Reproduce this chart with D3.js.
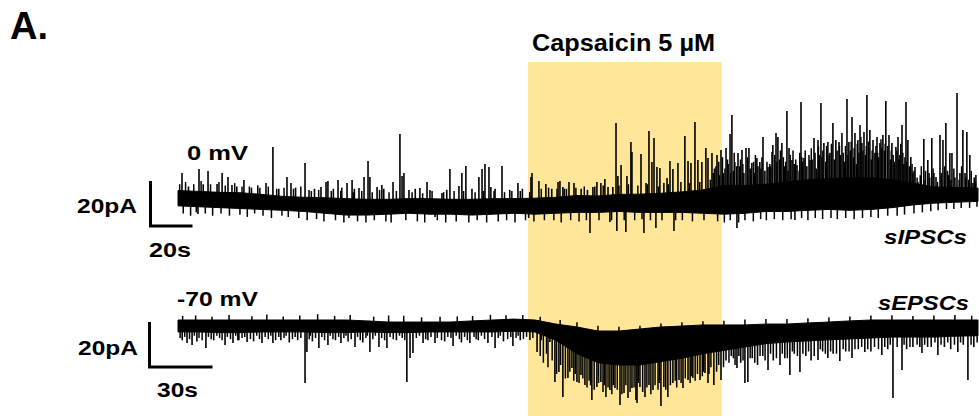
<!DOCTYPE html>
<html><head><meta charset="utf-8">
<script src="https://cdn.jsdelivr.net/npm/d3@7"></script>
<style>
body{margin:0;background:#fff}
svg{display:block}
text{font-family:"Liberation Sans",Arial,Helvetica,sans-serif;font-weight:bold;fill:#000}
</style>
</head><body>
<svg id="chart" width="979" height="416"></svg>
<script>
// ---------- DATA (time in s, current in pA) ----------
const bandTime = [0,10,20,30,40,50,60,70,80,90,100,110,120,130,140,150,160,170,180,190,200,210,220,230,240,250,260,270,280,290,300,310,320,330,340,350,360,370,381];

// sIPSC trace (0 mV): solid noise core
const ipscUpper = [4.2,3.8,3.4,3.2,2.5,1.6,1.2,1.0,0.6,0.3,0.3,0.6,0.6,0.3,0.3,0.6,0.6,0.8,1.2,2.0,1.8,2.5,2.6,3.0,3.6,4.5,6.5,6.5,7.0,8.0,9.0,9.5,10.0,10.0,9.0,7.5,5.8,5.6,5.3];
const ipscLower = [-2.6,-3.0,-3.4,-3.8,-4.2,-4.6,-5.1,-5.9,-6.7,-6.7,-6.3,-5.9,-6.3,-6.3,-6.7,-6.3,-5.9,-6.3,-5.9,-5.5,-5.5,-5.1,-5.5,-5.5,-5.5,-5.9,-6.3,-5.9,-5.1,-5.1,-4.6,-4.2,-4.6,-4.2,-3.4,-2.2,-1.4,-1.0,-0.6];
// sIPSC events: [time s, peak pA]
const ipscEvents = [
[1.9,12.0],[5,6],[10.0,13.8],[12,7],[14.3,12.9],[18.6,7.1],[21.0,12.0],[23.8,10.2],[25.7,6.7],[28,6],[31.4,8.9],[35,5.5],[38,6.5],
[41.9,7.6],[45.2,23.6],[48,5],[51.9,10.2],[53.8,7.6],[56,5.5],[60.5,16.4],[62.4,4.4],[65,5],[68.1,5.8],[70.5,8.0],[71.4,8.4],[74,5],
[76.2,8.9],[78,5.5],[80.5,7.6],[82.9,8.9],[84,5],[86.2,5.3],[88.6,10.2],[90.5,17.3],[91.4,10.2],[94.8,5.8],[97.1,6.7],[98,5],
[102.4,8.0],[105.7,29.3],[106.7,10.7],[107.6,12.0],[110,4.5],[113,5],[115.2,5.3],[118.6,8.0],[120,4.5],[125.7,3.1],[128,4.5],
[129.5,13.8],[133.8,6.2],[135.2,12.0],[137.1,15.1],[140,5],[143.3,10.2],[144.8,13.8],[146.2,16.0],[148.1,14.7],[149.0,5.8],
[151,5],[154.3,15.1],[158,4.5],[161.9,7.6],[164,5],[168.1,10.2],[168.6,12.0],[171.9,8.4],[175.2,7.1],[178,5],[181.0,8.0],
[181.9,8.4],[183.3,5.8],[184,5],[186.2,8.0],[188.6,7.6],[192,5],[195,4.5],[197.6,5.8],[199.5,8.0],[201.4,7.6],[203.3,9.3],
[204.8,5.8],[207.1,5.8],[208.6,34.2],[209.5,10.7],[211.0,15.6],[213.8,10.7],[215.7,25.8],[216.2,21.3],[220.5,20.4],[222.9,7.6],
[224.3,30.7],[225.7,16.9],[226.7,27.6],[228.1,14.7],[229.5,14.2],[231.4,7.6],[232.9,9.8],[234.3,17.3],[235.7,13.8],[238.1,16.4],
[241.4,28.4],[242.9,17.3],[244.3,16.4],[246.2,34.7],[247.6,17.8],[249.5,16.9],[251.4,23.1],[252.4,18.7],[254.3,20.9],[255.5,14],
[256.7,20.0],[257.5,17],[258.6,22.2],[259.8,12],[261.0,23.1],[262,16],[262.9,29.3],[263.8,37.8],[264.5,13],[265.2,16.9],[266.7,20.9],
[267.5,15],[268.6,22.2],[269.5,12],[270.5,23.1],[271.9,23.1],[272.5,14],[273.3,16.4],[274.5,12],[275.7,18.7],[276.2,15],[277.1,16.9],
[278.6,28.0],[279.5,13],[281.0,14.7],[281.8,16],[282.9,21.3],[283.3,24.4],[284.8,29.8],[285.7,28.0],[286.5,18],[287.6,25.3],
[288.8,15],[290.0,39.6],[290.5,13],[291.0,23.1],[292.4,17.8],[293.5,16],[294.8,15.6],[295.8,13],[296.7,43.6],[297.5,17],[298.1,18.7],
[299.5,15],[301.0,17.8],[302,18],[302.9,27.6],[304,14],[304.8,26.7],[305.5,20],[306.2,43.1],[307.6,25.3],[308.5,17],[309.5,25.8],
[310.5,21],[311.9,34.2],[312.6,18],[313.3,26.7],[314.8,25.8],[315.5,20],[316.2,29.8],[317.3,17],[318.6,44.9],[319.5,25.8],[320.2,22],
[321.0,36.9],[321.7,19],[322.4,29.8],[323.1,16],[323.8,26.7],[324.8,33.3],[325.7,25.3],[326.7,30.2],[327.4,20],[328.1,46.7],
[329.5,31.1],[330.2,18],[331.0,26.7],[331.9,21],[332.9,28.0],[333.6,19],[334.3,25.3],[335.7,28.9],[336.4,22],[337.1,44.0],
[338.6,28.9],[339.3,18],[340.0,25.3],[341.2,17],[341.9,23.6],[342.9,28.0],[343.8,20],[344.8,33.3],[345.7,16],[346.7,43.6],
[347.6,26.7],[348.3,15],[349.0,19.1],[350,12],[351.0,14.7],[352.4,8.0],[353.5,11],[355.2,27.1],[356,13],[357.1,17.8],[358,10],
[359.0,27.6],[360,12],[361.0,10.2],[362.9,28.9],[364.3,26.7],[365.7,34.2],[366.5,13],[367.6,20.9],[368.6,20.9],[370,10],[371.0,47.6],
[372.4,12.0],[373.8,31.1],[374.8,12],[375.7,30.2],[376.5,9],[377.1,20.0],[378.6,7.6],[379.2,10],[380.0,11.1],
[9.5,-6.2],[81.4,-8.0],[122.4,-7.6],[167,-8.0],[196.2,-14.7],[205.7,-9.8],[209.0,-13.8],[213.3,-14.2],[221.9,-14.7],
[227.6,-12.4],[236.2,-13.8],[266.2,-12.4],[293.8,-8.9]
];
// sIPSC small noise deflections along the core edges: [time s, pA]
const ipscNoise = [
[0.8,7],[2.5,-6],[3.6,8],[6,-7],[7.5,7],[8.7,-5.5],[11,8.5],[13,-6],[15.5,7],[16.5,-7],[19.5,8],[20.5,-6],[22.5,6.5],[24.5,-7],
[27,7.5],[29.5,-6.5],[30.5,6],[33,-7.5],[34,6],[36.5,-6],[39,5.5],[40.5,-7],[43,6],[44.5,-8],[47,5],[49.5,-7],[50.5,5.5],[52.5,-7.5],
[55,5],[57.5,-8],[58.5,6],[61.5,-9],[63.5,4],[66,-8.5],[67,4.5],[69.5,-9.5],[73,4],[75,-9],[77.5,4],[79,-10],[83.5,3.5],[85.5,-9.5],
[87.5,4],[89.5,-10],[92.5,3.5],[93.5,-9],[96,4.5],[99,-9.5],[100.5,3.5],[101.5,-10],[104,4],[108.5,-9],[111.5,3.5],[114,-9.5],
[116.5,3],[117.5,-10],[121,4],[123.5,-9],[126.5,3.5],[127.5,-10],[131.5,4],[132.5,-9.5],[136,4],[138.5,-10],[141.5,3.5],[142.5,-9],
[145.5,4],[147,-10],[150.5,4],[152.5,-9.5],[155.5,3.5],[156.5,-9],[159,4],[160.5,-10],[163,4],[165.5,-9],[167.5,3.5],[169.5,-9.5],
[173,5],[174.5,-9],[176.5,5.5],[179,-9],[180.5,5],[182.5,-10],[185,5],[187,-9],[189.5,5.5],[191,-9.5],[193.5,6],[194.5,-9],
[198.5,6],[200.5,-9],[202.5,6.5],[206.5,-9],[210,6.5],[212.5,-9],[214.5,7],[217.5,-9],[219,6.5],[221,-8.5],[223.5,7],[225,-9],
[228.8,6],[230.5,-9],[233.5,7],[237,-9],[239.5,8],[240.2,-9],[243.5,7.5],[245,-9.5],[248.5,8],[250.5,-9],[253.5,9],
[257,-9.5],[260.2,-10],[263,-9],[267,-10],[270,-9],[274,-9.5],[277.5,-8.5],[280.2,-9],[284,-8.5],[288,-9],[292,-8.5],[297,-8],
[300,-9],[303.5,-8],[307,-8.5],[311,-8],[314,-8.5],[318,-8],[322,-8.5],[326,-8],[330,-7.5],[333.5,-8],[338,-7],[342.5,-7],
[346,-6.5],[350.5,-6],[354.5,-5.5],[358.5,-5],[362,-4.5],[366,-4],[369.5,-4],[373,-3.5],[377,-3.5],[380.5,-3],
[254.9,12],[256.2,15],[257.9,11],[259.3,19],[260.5,14],[261.7,18],[263.2,12],[264.9,21],[266.1,15],[267.9,18],[269,16],[271.2,19],
[272.9,13],[274.1,17],[275,20],[277.6,14],[278.1,19],[280.5,17],[282.3,15],[284.2,20],[285.2,17],[286.9,22],[288.3,19],[289.4,17],
[291.6,20],[292.9,22],[294.2,18],[296.1,21],[297.1,19],[298.7,22],[300.5,20],[301.6,23],[303.4,21],[305,24],[306.7,19],[307.1,22],
[308.9,24],[310.1,20],[311.2,25],[313.9,22],[315,24],[316.8,21],[317.9,24],[319,20],[320.6,26],[322,23],[323.5,25],[324.3,21],
[325.2,28],[326.2,22],[327.8,24],[328.8,26],[330.6,22],[332.4,24],[333.2,21],[334.8,27],[335.1,23],[336.8,25],[338,24],[339.7,22],
[340.6,20],[342.4,22],[343.3,18],[344.2,25],[345.2,21],[346.2,19],[347.1,17],[348.8,14],[349.6,16],[350.5,13],[352,10],[354,15],
[355.8,9],[357.7,12],[359.6,14],[361.7,8],[363.5,12],[365.1,15],[367,11],[368.1,9],[369.5,14],[372,9],[373.2,15],[375.2,10],
[377.8,13],[379.8,8]
];

// sEPSC trace (-70 mV): solid noise core
const epscUpper = [0,0,0,0,0,0,0,0,0,-0.4,-0.9,-0.9,-0.9,-0.9,-0.4,0,0.4,0,-1.8,-3.1,-4.9,-4.9,-4.0,-3.1,-2.7,-2.2,-2.2,-2.2,-1.8,-1.8,-1.3,-0.9,-0.4,0,0,0,0,0,0];
const epscLower = [-5.3,-5.3,-5.6,-5.6,-5.3,-5.3,-5.3,-5.6,-5.6,-5.3,-5.6,-5.6,-5.3,-5.3,-5.3,-5.3,-5.0,-5.3,-9.0,-15.0,-19.0,-20.0,-20.0,-18.5,-17.0,-15.0,-13.5,-12.0,-10.5,-9.8,-9.3,-8.8,-8.4,-8.0,-7.6,-7.6,-7.6,-7.2,-7.0];
// sEPSC events: [time s, peak pA]
const epscEvents = [
[2,-9],[4.3,-10.2],[6.7,-11.1],[9,-9.5],[13.3,-12.4],[17,-9],[22.4,-11.1],[26.2,-10.2],[29,-9],[32.9,-9.8],[36,-9.5],[40.0,-10.2],
[45.2,-10.2],[49,-9],[53,-10],[57,-9],[60.5,-28.0],[61.4,-14.2],[64,-9.5],[67.1,-12.4],[71.4,-11.1],[75,-9],[77.6,-10.2],[81,-9.5],
[84.3,-12.0],[88,-10],[91.4,-14.2],[95.7,-12.0],[99.5,-12.4],[104,-9],[109.0,-27.6],[110.5,-16.9],[111.9,-14.7],[116.7,-10.2],
[119,-9],[122.4,-10.2],[127,-9.5],[131.0,-11.6],[135,-10],[139.0,-10.2],[143,-9],[147.6,-10.2],[151.0,-12.4],[155,-9.5],[159.5,-11.6],
[163,-9],[167.6,-8.9],[171.0,-14.2],[173,-9],[177.1,-9.8],[179.5,-27.6],[181.4,-23.1],[183.3,-34.2],[185.7,-25.8],[187.6,-21.3],
[190.0,-27.6],[191.9,-24.4],[193.8,-28.9],[197.1,-35.6],[199.5,-29.8],[201.4,-27.6],[203.8,-34.2],[205.7,-31.1],[208.1,-30.2],
[210.5,-37.8],[212.4,-32.4],[214.3,-34.7],[216.2,-30.2],[218.1,-35.6],[218.6,-36.9],[220.0,-29.8],[222.4,-34.2],[224.3,-28.9],
[226.2,-31.1],[230.0,-38.2],[231.4,-29.8],[233.3,-34.2],[235.7,-28.0],[238.6,-26.7],[240.5,-30.2],[242.9,-26.7],[245.2,-25.8],
[248.6,-26.7],[251.0,-23.6],[252.4,-28.0],[255.2,-28.9],[258.6,-26.7],[261,-18],[263.5,-16],[266.2,-21.3],[268,-19],[270.0,-28.0],
[271.4,-27.6],[273.5,-17],[276,-20],[278.5,-16],[281.0,-22.2],[283.5,-18],[286.7,-20.0],[289,-17],[291.4,-24.4],[293.5,-15],
[296.2,-23.1],[299,-16],[301.5,-18],[304.8,-17.8],[307,-14],[309.5,-16.9],[312,-15],[315.2,-18.2],[318,-14],[321.0,-16.9],
[324,-13],[327.1,-14.2],[330,-14],[335.2,-15.6],[338,-13],[340.5,-34.7],[344.8,-22.2],[347,-13],[350,-12],[353.3,-12.0],
[354.3,-14.7],[357,-12],[361.9,-15.6],[365,-12],[368,-13],[371.4,-14.2],[374,-11],[376.2,-26.7],[379,-12]
];
// sEPSC small noise deflections along the core edges: [time s, pA]
const epscNoise = [
[1,-8],[3.2,-7.5],[5.5,-8.5],[7.8,-7],[10,-8],[11.5,-9],[14.5,-7.5],[15.8,-8.5],[18.5,-7],[19.8,-8],[21,-9],[23.5,-7.5],[25,-8.5],
[27.5,-7],[28.5,-9],[30.5,-8],[31.8,-7.5],[34.5,-8.5],[37.5,-7],[38.8,-8.5],[41.5,-7.5],[43,-8.5],[44.2,-7],[46.5,-9],[48,-7.5],
[50.5,-8],[51.5,-7],[54.5,-8.5],[55.8,-7.5],[58.5,-8],[62.5,-8.5],[63,-7],[65.5,-8],[68.5,-7.5],[69.8,-9],[72.5,-7],[73.8,-8.5],
[76.5,-7.5],[79,-8],[80,-7],[82.5,-8.5],[85.5,-7.5],[86.8,-9],[89.5,-8],[90.2,-7],[92.8,-8.5],[94,-7],[97,-8],[98.4,-9],[101,-7.5],
[102.5,-8.5],[105.5,-7],[106.8,-8],[108,-9],[113.5,-8],[115,-7],[118,-8.5],[120.5,-7.5],[123.5,-8],[125.5,-9],[128.5,-7.5],[130,-8],
[132.5,-7],[134,-8.5],[136.5,-7.5],[137.8,-9],[141,-7.5],[142,-8.5],[144.5,-7],[146,-8.5],[149.5,-7.5],[152.5,-8],[153.5,-7],
[157,-8.5],[158.5,-7.5],[161,-8],[162,-7],[164.5,-8.5],[166,-7.5],[169,-8],
[2.2,1.8],[8.4,2],[16.2,1.5],[24.3,2.2],[35.2,1.7],[42.3,2.4],[50.1,1.6],[58,2],[66.5,2.6],[74.6,1.8],[82,2.2],[93.2,1.5],
[100.3,2],[107.5,1.9],[116,1.2],[124.8,1.5],[133,1.6],[140.3,1.8],[148.8,2.3],[156.2,2.1],[164.2,2.2],[172.5,1.5],[182,0],
[190,-1],[200,-2.5],[210,-3],[220,-2.5],[230,-1.5],[240,-1],[250,-0.5],[260,-0.3],[270,0.2],[280,0.5],[290,0.4],[300,0.8],
[310,1.2],[320,1.6],[330,2],[340,2.1],[350,1.8],[360,2],[370,2.2],[378,1.9],
[172.5,-16],[174,-19],[175.5,-15],[176.2,-21],[178.2,-18],[180.3,-24],[182.2,-20],[184.5,-26],[186.6,-23],[188.5,-27],[189.2,-24],
[191,-28],[192.8,-26],[194.8,-30],[195.8,-27],[196.5,-29],[198.2,-31],[200.3,-28],[202.4,-32],[203,-29],[204.8,-30],[206.6,-33],
[207.3,-29],[209.2,-31],[211.4,-33],[213.3,-29],[215.3,-32],[217.2,-30],[219.2,-28],[221.3,-32],[223.3,-30],[225.2,-33],[227.2,-29],
[228.6,-31],[229.2,-28],[232.3,-31],[234.5,-29],[236.8,-27],[237.5,-30],[239.6,-28],[241.6,-26],[243.9,-28],[244.4,-25],[246.3,-27],
[247.4,-24],[249.7,-25],[250.3,-23],[252.9,-24],[253.8,-21],[256.5,-23],[257.5,-20],[259.8,-21],[262.4,-19],[264.5,-17],[265.3,-20],
[267.1,-16],[269.1,-18],[272.5,-17],[274.7,-19],[277.2,-16],[279.6,-18],[282.2,-15],[285,-17],[287.8,-15],[290.2,-17],[292.6,-14],
[295,-16],[297.6,-15],[300.3,-14],[303,-16],[305.9,-13],[308.3,-15],[310.8,-14],[313.6,-15],[316.8,-13],[319.6,-14],[322.4,-13],
[325.6,-12],[328.5,-13],[331.7,-12],[333.6,-13],[336.6,-12],[339.2,-11],[342.5,-12],[345.8,-11],[348.6,-12],[352,-11],[355.6,-11],
[358.7,-12],[360.5,-10],[363.4,-11],[366.6,-10],[369.8,-11],[372.7,-10],[377.7,-11],[380.6,-10]
];

const capsaicinWindow = [166.7, 258.9];   // s
const ipscScaleBar = [20, 20];            // [pA, s]
const epscScaleBar = [20, 30];            // [pA, s]

const panelLabel = "A.";
const drugLabel = "Capsaicin 5 µM";
const ipscHold = "0 mV", epscHold = "-70 mV";
const ipscName = "sIPSCs", epscName = "sEPSCs";

// ---------- DRAWING ----------
const svg = d3.select("#chart");
const x = d3.scaleLinear().domain([0, 381]).range([178, 978]);
const yI = d3.scaleLinear().domain([0, 20]).range([200, 155]);
const yE = d3.scaleLinear().domain([0, 20]).range([320, 275]);

svg.append("rect")
  .attr("x", x(capsaicinWindow[0])).attr("y", 62)
  .attr("width", x(capsaicinWindow[1]) - x(capsaicinWindow[0]))
  .attr("height", 416 - 62)
  .attr("fill", "#FFE699");

function drawTrace(upper, lower, events, noise, y) {
  const g = svg.append("g");
  const band = bandTime.map((t, i) => ({t, hi: upper[i], lo: lower[i]}));
  const area = d3.area().x(d => x(d.t)).y0(d => y(d.lo)).y1(d => y(d.hi));
  g.append("path").datum(band).attr("d", area)
    .attr("fill", "#000").attr("stroke", "#000").attr("stroke-width", 1);
  const mid = d3.scaleLinear().domain(bandTime).range(bandTime.map((t, i) => (upper[i] + lower[i]) / 2));
  g.selectAll("line.nz").data(noise).join("line")
    .attr("class", "nz")
    .attr("x1", d => x(d[0])).attr("x2", d => x(d[0]))
    .attr("y1", d => y(mid(d[0]))).attr("y2", d => y(d[1]))
    .attr("stroke", "#000").attr("stroke-width", 1.5);
  g.selectAll("line.ev").data(events).join("line")
    .attr("class", "ev")
    .attr("x1", d => x(d[0])).attr("x2", d => x(d[0]))
    .attr("y1", d => y(mid(d[0]))).attr("y2", d => y(d[1]))
    .attr("stroke", "#000").attr("stroke-width", 1.6);
}
drawTrace(ipscUpper, ipscLower, ipscEvents, ipscNoise, yI);
drawTrace(epscUpper, epscLower, epscEvents, epscNoise, yE);

function scaleBar(cx, cy, vals, y) {
  const h = y(0) - y(vals[0]);
  const w = x(vals[1]) - x(0);
  svg.append("path")
    .attr("d", `M${cx},${cy - h}V${cy}H${cx + w}`)
    .attr("fill", "none").attr("stroke", "#000").attr("stroke-width", 3);
}
scaleBar(150.5, 226, ipscScaleBar, yI);
scaleBar(149.5, 367, epscScaleBar, yE);

function label(txt, tx, ty, size, len, italic) {
  svg.append("text").attr("x", tx).attr("y", ty)
    .attr("font-size", size)
    .attr("font-style", italic ? "italic" : "normal")
    .attr("textLength", len).attr("lengthAdjust", "spacingAndGlyphs")
    .text(txt);
}
label(panelLabel, 10, 39, 38, 38);
label(drugLabel, 532, 51, 23, 183);
label(ipscHold, 187, 160, 21, 61);
label(ipscScaleBar[0] + "pA", 77, 213, 21, 60);
label(ipscScaleBar[1] + "s", 149, 257, 21, 42);
label(ipscName, 884, 244, 20, 83, true);
label(epscHold, 177, 306, 20, 81);
label(epscName, 878, 310, 21, 91, true);
label(epscScaleBar[0] + "pA", 78, 355, 21, 60);
label(epscScaleBar[1] + "s", 157, 397, 21, 41);
</script>
</body></html>
